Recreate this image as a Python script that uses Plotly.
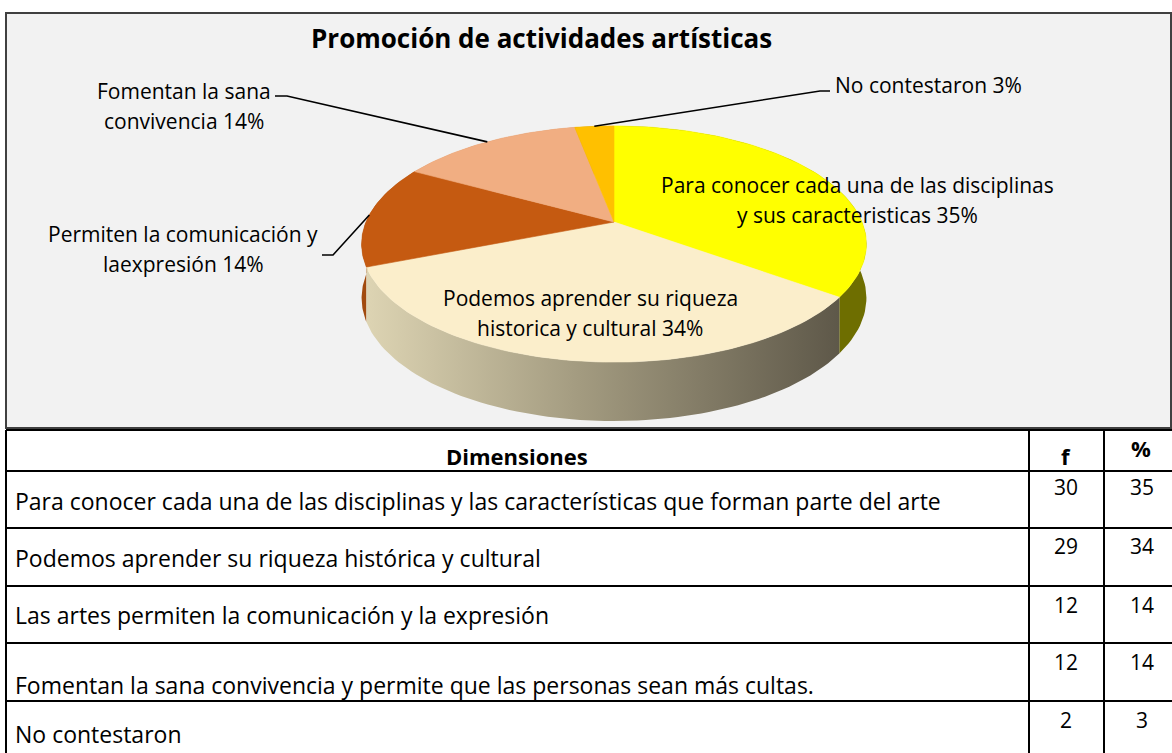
import numpy as np
import plotly.graph_objects as go

# ---- datos ----
etiquetas = [
    "Para conocer cada una de las disciplinas<br>y sus caracteristicas 35%",
    "Podemos aprender su riqueza<br>historica y cultural 34%",
    "Permiten la comunicación y<br>laexpresión 14%",
    "Fomentan la sana<br>convivencia 14%",
    "No contestaron 3%",
]
porcentajes = [35, 34, 14, 14, 3]
colores = ["#FFFF00", "#FBEECB", "#C55A11", "#F1AE82", "#FFC000"]
colores_lado = ["#6E6E00", None, "#A14A0E", "#C98A60", "#B08400"]

titulo = "Promoción de actividades artísticas"

encabezados = ["Dimensiones", "f", "%"]
dimensiones = [
    "Para conocer cada una de las disciplinas y las características que forman parte del arte",
    "Podemos aprender su riqueza histórica y cultural",
    "Las artes permiten la comunicación y la expresión",
    "Fomentan la sana convivencia y permite que las personas sean más cultas.",
    "No contestaron",
]
frecuencias = [30, 29, 12, 12, 2]
porc_tabla = [35, 34, 14, 14, 3]

FONT = "Open Sans"
W, H = 1172, 753

# ---- pastel 3D (proyeccion en perspectiva) ----
CX, CY, SX, SY, P = 614, 222, 248, 114, 0.1864
DEPTH, Q = 53, 0.1


def punto(phi):
    ph = np.radians(phi)
    X, Y = np.sin(ph), np.cos(ph)
    den = 1 + P * Y
    return CX + SX * X / den, CY - SY * Y / den, Y


def arco(a0, a1, n=80):
    return punto(np.linspace(a0, a1, n))


fig = go.Figure()

# marco del grafico
fig.add_shape(type="rect", x0=6, x1=1171, y0=13, y1=428, layer="below",
              fillcolor="#F2F2F2", line=dict(color="#404040", width=2))

limites = np.concatenate([[0], np.cumsum(porcentajes)]) / sum(porcentajes) * 360

# laterales (primero los de atras)
for i in [3, 4, 2, 0, 1]:
    x, y, Y = arco(limites[i], limites[i + 1])
    yb = y + DEPTH / (1 + Q * Y)
    kw = dict(fill="toself", mode="lines", line=dict(width=0),
              hoverinfo="skip", showlegend=False)
    if colores_lado[i] is None:
        kw["fillgradient"] = dict(type="horizontal", colorscale=[
            [0, "#DDD4B3"], [0.45, "#A39B80"], [1, "#5E5849"]])
    else:
        kw["fillcolor"] = colores_lado[i]
    fig.add_trace(go.Scatter(x=np.concatenate([x, x[::-1]]),
                             y=np.concatenate([y, yb[::-1]]), **kw))

# caras superiores
for i in range(len(porcentajes)):
    x, y, _ = arco(limites[i], limites[i + 1])
    fig.add_trace(go.Scatter(
        x=np.concatenate([[CX], x, [CX]]), y=np.concatenate([[CY], y, [CY]]),
        fill="toself", fillcolor=colores[i], mode="lines",
        line=dict(width=0.6, color=colores[i]),
        hoverinfo="skip", showlegend=False))

# lineas guia (codo de la etiqueta -> borde de la porcion)
codos = {3: [(275, 96), (287, 96)], 2: [(322, 255), (333, 255)],
         4: [(830, 91), (820, 91)]}
for i, pts in codos.items():
    mx, my, _ = punto((limites[i] + limites[i + 1]) / 2)
    fig.add_trace(go.Scatter(x=[p[0] for p in pts] + [mx],
                             y=[p[1] for p in pts] + [my], mode="lines",
                             line=dict(color="black", width=1.6),
                             hoverinfo="skip", showlegend=False))

# etiquetas
pos_etiquetas = [(857, 185), (590, 298), (183, 234), (184, 91), (928, 85)]
for txt, (ex, ey) in zip(etiquetas, pos_etiquetas):
    for k, linea in enumerate(txt.split("<br>")):
        fig.add_annotation(x=ex, y=ey + 29.5 * k, text=linea, showarrow=False,
                           xanchor="center", yanchor="middle",
                           font=dict(family=FONT, size=21, color="black"))

fig.add_annotation(x=541, y=38, text="<b>" + titulo + "</b>", showarrow=False,
                   yanchor="middle",
                   font=dict(family=FONT, size=26, color="black"))

# ---- tabla ----
X0, XC1, XC2, X1 = 6, 1029, 1104, 1172
filas = [430, 471, 528, 586, 643, 701, 760]
for yy in filas[:-1]:
    fig.add_shape(type="line", x0=X0, x1=X1, y0=yy, y1=yy,
                  line=dict(color="black", width=2))
for xx in [X0, XC1, XC2]:
    fig.add_shape(type="line", x0=xx, x1=xx, y0=filas[0], y1=filas[-1],
                  line=dict(color="black", width=2))

for txt, xx, yy in zip(encabezados, [517, 1066, 1141], [456, 456, 448]):
    fig.add_annotation(x=xx, y=yy, text="<b>" + txt + "</b>",
                       showarrow=False, yanchor="middle",
                       font=dict(family=FONT, size=22, color="black"))

y_texto = [501, 558, 615, 685, 734]
y_num = [487, 546, 605, 662, 720]
for d, f, pc, yt, yn in zip(dimensiones, frecuencias, porc_tabla, y_texto, y_num):
    fig.add_annotation(x=13, y=yt, text=d, showarrow=False, xanchor="left",
                       yanchor="middle", font=dict(family=FONT, size=23, color="black"))
    fig.add_annotation(x=1066, y=yn, text=str(f), showarrow=False,
                       yanchor="middle", font=dict(family=FONT, size=21, color="black"))
    fig.add_annotation(x=1142, y=yn, text=str(pc), showarrow=False,
                       yanchor="middle", font=dict(family=FONT, size=21, color="black"))

fig.update_xaxes(range=[0, W], visible=False, fixedrange=True)
fig.update_yaxes(range=[H, 0], visible=False, fixedrange=True)
fig.update_layout(width=W, height=H, margin=dict(l=0, r=0, t=0, b=0),
                  paper_bgcolor="white", plot_bgcolor="white",
                  showlegend=False)

fig.write_html("out.html", config={"displayModeBar": False},
               post_script="document.body.style.margin = '0';")
